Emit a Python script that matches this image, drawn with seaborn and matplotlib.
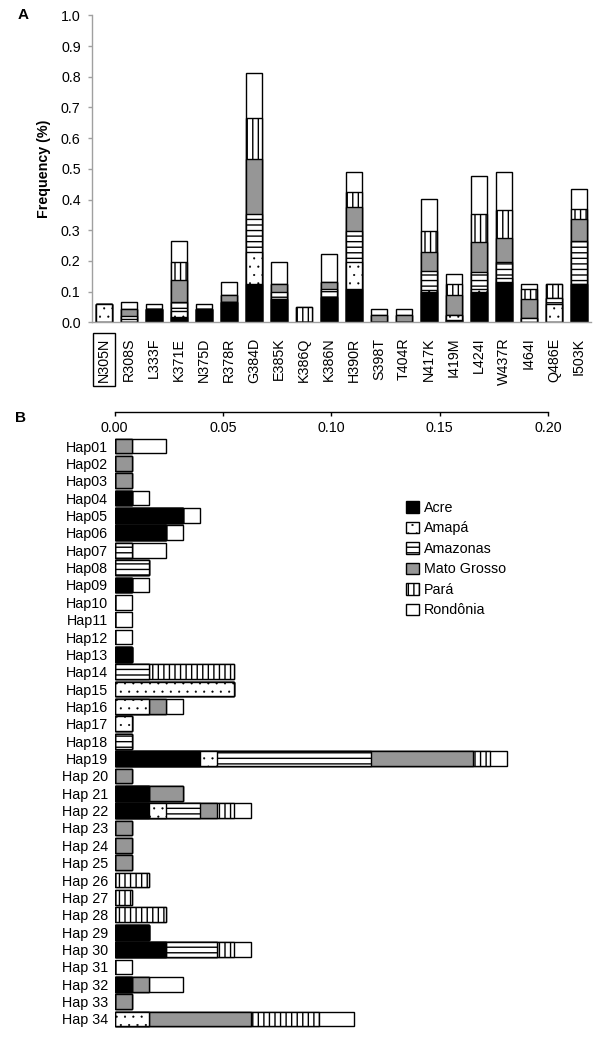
import numpy as np
import pandas as pd
import seaborn as sns
import matplotlib.pyplot as plt
from matplotlib.patches import Patch

# ---- panel A: frequency (%) of each mutation by state ----
mutations = ['N305N', 'R308S', 'L333F', 'K371E', 'N375D', 'R378R', 'G384D', 'E385K',
             'K386Q', 'K386N', 'H390R', 'S398T', 'T404R', 'N417K', 'I419M', 'L424I',
             'W437R', 'I464I', 'Q486E', 'I503K']
acre = [0, 0, 0.044, 0.018, 0.044, 0.067, 0.124, 0.077, 0, 0.084,
        0.107, 0, 0, 0.100, 0.008, 0.100, 0.131, 0, 0, 0.124]
amapa = [0.059, 0, 0, 0.020, 0, 0, 0.104, 0, 0, 0,
         0.089, 0, 0, 0.006, 0.016, 0.008, 0.014, 0.013, 0.058, 0]
amazonas = [0, 0.022, 0, 0.029, 0, 0, 0.125, 0.022, 0, 0.024,
            0.100, 0, 0, 0.060, 0, 0.057, 0.051, 0, 0.022, 0.140]
mato_grosso = [0, 0.022, 0, 0.071, 0, 0.023, 0.178, 0.025, 0, 0.024,
               0.080, 0.024, 0.024, 0.063, 0.064, 0.096, 0.080, 0.062, 0, 0.073]
para = [0, 0, 0, 0.060, 0, 0, 0.134, 0, 0.051, 0,
        0.050, 0, 0, 0.068, 0.036, 0.092, 0.091, 0.033, 0.044, 0.031]
rondonia = [0, 0.022, 0.015, 0.066, 0.015, 0.041, 0.148, 0.074, 0, 0.090,
            0.065, 0.018, 0.018, 0.105, 0.033, 0.123, 0.124, 0.016, 0, 0.066]

# ---- panel B: haplotype counts by state ----
haplotypes = ['Hap01', 'Hap02', 'Hap03', 'Hap04', 'Hap05', 'Hap06', 'Hap07', 'Hap08',
              'Hap09', 'Hap10', 'Hap11', 'Hap12', 'Hap13', 'Hap14', 'Hap15', 'Hap16',
              'Hap17', 'Hap18', 'Hap19', 'Hap 20', 'Hap 21', 'Hap 22', 'Hap 23', 'Hap 24',
              'Hap 25', 'Hap 26', 'Hap 27', 'Hap 28', 'Hap 29', 'Hap 30', 'Hap 31',
              'Hap 32', 'Hap 33', 'Hap 34']
hap_acre = [0, 0, 0, 1, 4, 3, 0, 0, 1, 0, 0, 0, 1, 0, 0, 0, 0,
            0, 5, 0, 2, 2, 0, 0, 0, 0, 0, 0, 2, 3, 0, 1, 0, 0]
hap_amapa = [0, 0, 0, 0, 0, 0, 0, 0, 0, 0, 0, 0, 0, 0, 7, 2, 1,
             0, 1, 0, 0, 1, 0, 0, 0, 0, 0, 0, 0, 0, 0, 0, 0, 2]
hap_amazonas = [0, 0, 0, 0, 0, 0, 1, 2, 0, 0, 0, 0, 0, 2, 0, 0, 0,
                1, 9, 0, 0, 2, 0, 0, 0, 0, 0, 0, 0, 3, 0, 0, 0, 0]
hap_mato_grosso = [1, 1, 1, 0, 0, 0, 0, 0, 0, 0, 0, 0, 0, 0, 0, 1, 0,
                   0, 6, 1, 2, 1, 1, 1, 1, 0, 0, 0, 0, 0, 0, 1, 1, 6]
hap_para = [0, 0, 0, 0, 0, 0, 0, 0, 0, 0, 0, 0, 0, 5, 0, 0, 0,
            0, 1, 0, 0, 1, 0, 0, 0, 2, 1, 3, 0, 1, 0, 0, 0, 4]
hap_rondonia = [2, 0, 0, 1, 1, 1, 2, 0, 1, 1, 1, 1, 0, 0, 0, 1, 0,
                0, 1, 0, 0, 1, 0, 0, 0, 0, 0, 0, 0, 1, 1, 2, 0, 2]
n_seq = 127

regions = ['Acre', 'Amapá', 'Amazonas', 'Mato Grosso', 'Pará', 'Rondônia']
faces = ['black', 'white', 'white', '#969696', 'white', 'white']
hatches = ['', '..', '---', '', '|||', '']
hatch_lw = [1.0, 0.3, 1.0, 1.0, 1.0, 1.0]

sns.set_style('white')
plt.rcParams['font.family'] = ['Liberation Sans', 'DejaVu Sans']
plt.rcParams['text.color'] = 'black'
plt.rcParams['axes.labelcolor'] = 'black'
plt.rcParams['xtick.color'] = 'black'
plt.rcParams['ytick.color'] = 'black'
plt.rcParams['hatch.linewidth'] = 1.0
fs = 10.3

fig = plt.figure(figsize=(6, 10.37), dpi=100)
ax_a = fig.add_axes([0.1525, 0.6892, 0.8333, 0.2960])
ax_b = fig.add_axes([0.1912, 0.00868, 0.7222, 0.5943])

# stacked bars: draw cumulative totals from the top layer down
top = pd.DataFrame({'mutation': mutations, 'Acre': acre, 'Amapá': amapa,
                    'Amazonas': amazonas, 'Mato Grosso': mato_grosso,
                    'Pará': para, 'Rondônia': rondonia})
top_cum = top[regions].cumsum(axis=1)
for reg, fc, h, hl in reversed(list(zip(regions, faces, hatches, hatch_lw))):
    with plt.rc_context({'hatch.linewidth': hl}):
        sns.barplot(x=top['mutation'], y=top_cum[reg], order=mutations, color=fc,
                    saturation=1, width=0.63, errorbar=None, edgecolor='black',
                    linewidth=1.0, hatch=h, ax=ax_a)

ax_a.set_xlim(-0.5, len(mutations) - 0.5)
ax_a.set_ylim(0, 1.0)
ax_a.set_yticks(np.arange(0, 1.01, 0.1))
ax_a.set_yticklabels([f'{v:.1f}' for v in np.arange(0, 1.01, 0.1)], fontsize=fs)
ax_a.set_xlabel('')
ax_a.set_ylabel('Frequency (%)', fontweight='bold', fontsize=fs, labelpad=7)
ax_a.tick_params(axis='x', rotation=90, length=0, pad=11, labelsize=fs)
ax_a.tick_params(axis='y', direction='out', length=3, width=1, color='#a0a0a0',
                 left=True, pad=4.8)
for side in ['top', 'right']:
    ax_a.spines[side].set_visible(False)
for side in ['left', 'bottom']:
    ax_a.spines[side].set_color('#a0a0a0')
    ax_a.spines[side].set_linewidth(1.0)
for lbl in ax_a.get_xticklabels():
    if lbl.get_text() == 'N305N':
        lbl.set_bbox(dict(boxstyle='square,pad=0.3', fc='none', ec='black', lw=1.0))

bot = pd.DataFrame({'hap': haplotypes, 'Acre': hap_acre, 'Amapá': hap_amapa,
                    'Amazonas': hap_amazonas, 'Mato Grosso': hap_mato_grosso,
                    'Pará': hap_para, 'Rondônia': hap_rondonia})
bot_cum = bot[regions].cumsum(axis=1) / n_seq
for reg, fc, h, hl in reversed(list(zip(regions, faces, hatches, hatch_lw))):
    with plt.rc_context({'hatch.linewidth': hl}):
        sns.barplot(x=bot_cum[reg], y=bot['hap'], order=haplotypes, orient='h', color=fc,
                    saturation=1, width=0.85, errorbar=None, edgecolor='black',
                    linewidth=1.0, hatch=h, ax=ax_b)

ax_b.set_xlim(0, 0.2)
ax_b.set_ylim(33.52, -1.976)
ax_b.set_xticks([0, 0.05, 0.10, 0.15, 0.20])
ax_b.set_xticklabels(['0.00', '0.05', '0.10', '0.15', '0.20'])
ax_b.set_xlabel('')
ax_b.set_ylabel('')
ax_b.xaxis.tick_top()
ax_b.tick_params(axis='x', direction='in', length=3, width=1, top=True, bottom=False,
                 labeltop=True, labelbottom=False, pad=-16.5, labelsize=fs)
ax_b.tick_params(axis='y', length=0, pad=4.6, labelsize=fs)
for side in ['left', 'right', 'bottom']:
    ax_b.spines[side].set_visible(False)
ax_b.spines['top'].set_color('black')
ax_b.spines['top'].set_linewidth(1.0)

handles = [Patch(facecolor=fc, edgecolor='black', hatch=h, linewidth=1.0, label=reg)
           for reg, fc, h in zip(regions, faces, hatches)]
leg = ax_b.legend(handles=handles, loc='upper left', bbox_to_anchor=(406 / 600, 1 - 501 / 1037),
                  bbox_transform=fig.transFigure, frameon=False, borderpad=0, borderaxespad=0,
                  handlelength=0.91, handleheight=0.85, handletextpad=0.35, labelspacing=0.45,
                  fontsize=fs)
# thinner dots in the legend key too
for p, hl in zip(leg.get_patches(), hatch_lw):
    if hasattr(p, 'set_hatch_linewidth'):
        p.set_hatch_linewidth(hl)
    else:
        p._hatch_linewidth = hl

fig.text(23 / 600, 1 - 15 / 1037, 'A', fontweight='bold', fontsize=11, ha='center', va='center')
fig.text(20 / 600, 1 - 418 / 1037, 'B', fontweight='bold', fontsize=11, ha='center', va='center')

fig.savefig('out.png', dpi=100)
